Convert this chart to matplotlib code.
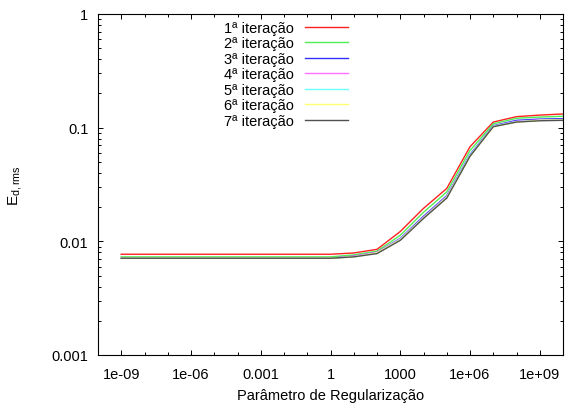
import numpy as np
import matplotlib
matplotlib.use("Agg")
from matplotlib import pyplot as plt
from matplotlib import ticker

plt.rcParams['font.family'] = ['Liberation Sans', 'DejaVu Sans']
plt.rcParams['mathtext.default'] = 'regular'

# regularization parameter (one point per decade)
lambdas = [1e-9, 1e-8, 1e-7, 1e-6, 1e-5, 1e-4, 1e-3, 1e-2, 1e-1, 1e0,
           1e1, 1e2, 1e3, 1e4, 1e5, 1e6, 1e7, 1e8, 1e9, 1e10]

it1 = [0.0077, 0.0077, 0.0077, 0.0077, 0.0077, 0.0077, 0.0077, 0.0077, 0.0077, 0.0077,
       0.0079, 0.0085, 0.0122, 0.0195, 0.0292, 0.068, 0.112, 0.125, 0.129, 0.132]
it2 = [0.0073, 0.0073, 0.0073, 0.0073, 0.0073, 0.0073, 0.0073, 0.0073, 0.0073, 0.0073,
       0.0076, 0.0082, 0.0113, 0.0180, 0.0272, 0.063, 0.108, 0.121, 0.124, 0.126]
it3 = [0.0071, 0.0071, 0.0071, 0.0071, 0.0071, 0.0071, 0.0071, 0.0071, 0.0071, 0.0071,
       0.0074, 0.0080, 0.0106, 0.0166, 0.0252, 0.058, 0.104, 0.116, 0.119, 0.120]
it4 = [0.0071, 0.0071, 0.0071, 0.0071, 0.0071, 0.0071, 0.0071, 0.0071, 0.0071, 0.0071,
       0.0074, 0.0080, 0.0105, 0.0163, 0.0248, 0.057, 0.103, 0.114, 0.117, 0.118]
it5 = [0.0071, 0.0071, 0.0071, 0.0071, 0.0071, 0.0071, 0.0071, 0.0071, 0.0071, 0.0071,
       0.0073, 0.0079, 0.0104, 0.0161, 0.0245, 0.057, 0.103, 0.113, 0.116, 0.117]
it6 = [0.0071, 0.0071, 0.0071, 0.0071, 0.0071, 0.0071, 0.0071, 0.0071, 0.0071, 0.0071,
       0.0073, 0.0079, 0.0103, 0.0160, 0.0243, 0.056, 0.102, 0.112, 0.116, 0.117]
it7 = [0.0071, 0.0071, 0.0071, 0.0071, 0.0071, 0.0071, 0.0071, 0.0071, 0.0071, 0.0071,
       0.0073, 0.0078, 0.0102, 0.0159, 0.0240, 0.056, 0.102, 0.112, 0.115, 0.116]

series = [it1, it2, it3, it4, it5, it6, it7]
labels = ['1ª iteração', '2ª iteração', '3ª iteração', '4ª iteração',
          '5ª iteração', '6ª iteração', '7ª iteração']
colors = ['#ff2020', '#50ee50', '#3030ff', '#ff70ff', '#70ffff', '#ffff70', '#505050']

x_ticks = [1e-9, 1e-6, 1e-3, 1, 1e3, 1e6, 1e9]
x_tick_labels = ['1e-09', '1e-06', '0.001', '1', '1000', '1e+06', '1e+09']
y_ticks = [0.001, 0.01, 0.1, 1]
y_tick_labels = ['0.001', '0.01', '0.1', '1']

FS = 10.5

fig = plt.figure(figsize=(5.65, 4.06), dpi=100)
ax = fig.add_axes([98/565, 1 - 356/406, 465/565, 341/406])

for data, name, c in zip(series, labels, colors):
    ax.plot(lambdas, data, color=c, lw=1.0, label=name)

ax.set_xscale('log')
ax.set_yscale('log')
ax.set_xlim(1e-10, 1e10)
ax.set_ylim(0.001, 1)

ax.xaxis.set_major_locator(ticker.FixedLocator(x_ticks))
ax.xaxis.set_major_formatter(ticker.FixedFormatter(x_tick_labels))
ax.xaxis.set_minor_locator(ticker.LogLocator(base=10, subs=(1.0,), numticks=40))
ax.xaxis.set_minor_formatter(ticker.NullFormatter())
ax.yaxis.set_major_locator(ticker.FixedLocator(y_ticks))
ax.yaxis.set_major_formatter(ticker.FixedFormatter(y_tick_labels))
ax.yaxis.set_minor_locator(ticker.LogLocator(base=10, subs=np.arange(2, 10), numticks=40))
ax.yaxis.set_minor_formatter(ticker.NullFormatter())

ax.tick_params(which='both', direction='in', top=True, right=True, width=0.7, labelsize=FS)
ax.tick_params(which='major', length=3.5)
ax.tick_params(which='minor', length=2)
ax.tick_params(axis='x', which='major', pad=9)
ax.tick_params(axis='y', which='major', pad=7)
for sp in ax.spines.values():
    sp.set_linewidth(0.8)

ax.set_xlabel('Parâmetro de Regularização', fontsize=FS, labelpad=5)
ax.set_ylabel(r'$\mathregular{E_{d,rms}}$', fontsize=FS + 0.5, labelpad=20)

ax.legend(loc='upper right', bbox_to_anchor=(348/565, 1 - 22/406),
          bbox_transform=fig.transFigure, frameon=False, markerfirst=False,
          fontsize=FS, handlelength=2.95, handletextpad=0.75,
          labelspacing=0.1, borderpad=0, borderaxespad=0)

plt.savefig('out.png', dpi=100)
